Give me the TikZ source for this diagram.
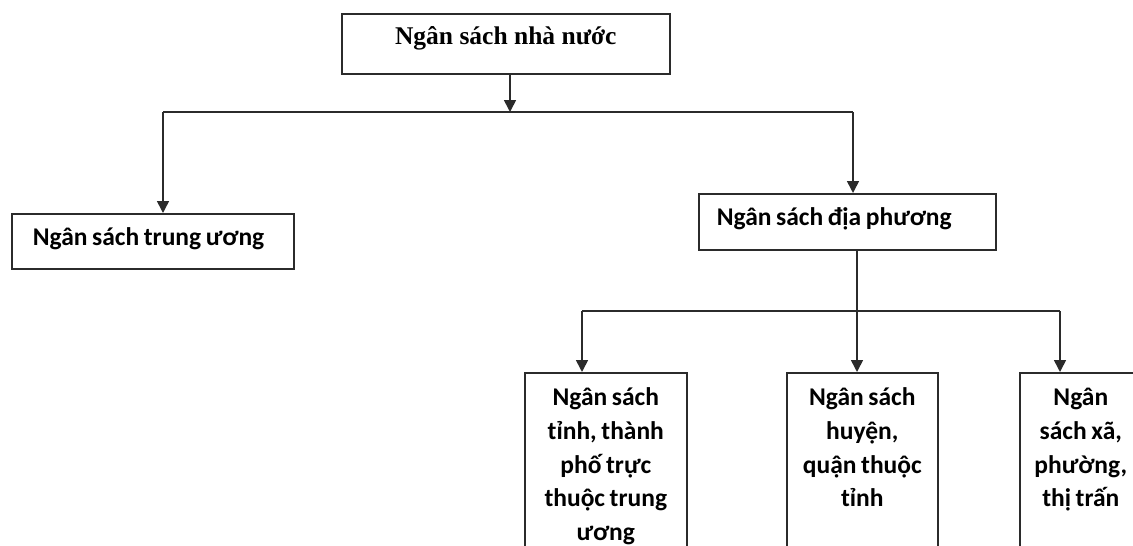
\documentclass[tikz,border=0pt]{standalone}
\usepackage{fontspec}
\setmainfont{Carlito}[WordSpace=0.8]
\newfontfamily\timesfont{Liberation Serif}
\usetikzlibrary{arrows.meta}
\definecolor{linegray}{HTML}{2B2B2B}
\tikzset{
  boxstyle/.style={draw=linegray, line width=1.6pt, rectangle, inner ysep=0pt, font=\fontsize{25.5}{30}\selectfont\bfseries},
  conn/.style={draw=linegray, line width=1.6pt},
  arr/.style={conn, -{Triangle[width=12pt,length=12pt]}}
}
\begin{document}
\begin{tikzpicture}[x=1pt,y=1pt]
\useasboundingbox (0,0) rectangle (1133,-546);
\clip (0,0) rectangle (1133,-546);
% level 0
\node[boxstyle, anchor=north west, minimum width=328pt, inner xsep=0pt,
      text height=31pt, text depth=29pt, font=\timesfont\fontsize{25.5}{30}\selectfont\bfseries]
  (nsnn) at (341,-13) {Ngân sách nhà nước};
% level 1
\node[boxstyle, anchor=north west, inner xsep=21pt, text width=240pt, align=flush left,
      text height=32pt, text depth=23pt]
  (tw) at (11,-213) {\mbox{Ngân sách trung ương}};
\node[boxstyle, anchor=north west, inner xsep=18pt, text width=261pt, align=flush left,
      text height=32pt, text depth=24pt]
  (dp) at (698,-193) {\mbox{Ngân sách địa phương}};
% level 2
\node[boxstyle, anchor=north west, inner xsep=0pt, minimum width=162pt,
      text height=33pt, text depth=220pt]
  (b1) at (524,-372) {\parbox[t]{150pt}{\centering\baselineskip=33.6pt Ngân sách\\tỉnh, thành\\phố trực\\thuộc trung\\ương}};
\node[boxstyle, anchor=north west, inner xsep=0pt, minimum width=151pt,
      text height=33pt, text depth=220pt]
  (b2) at (786,-372) {\parbox[t]{140pt}{\centering\baselineskip=33.6pt Ngân sách\\huyện,\\quận thuộc\\tỉnh}};
\node[boxstyle, anchor=north west, inner xsep=0pt, minimum width=122pt,
      text height=33pt, text depth=220pt]
  (b3) at (1019,-372) {\parbox[t]{110pt}{\centering\baselineskip=33.6pt Ngân\\sách xã,\\phường,\\thị trấn}};
% junctions
\coordinate (j0) at (510,-112);
\coordinate (jL) at (163,-112);
\coordinate (jR) at (853,-112);
\coordinate (k1) at (582,-311);
\coordinate (k2) at (857,-311);
\coordinate (k3) at (1060,-311);
% connectors
\draw[arr] (j0 |- nsnn.south) -- (j0);
\draw[conn] (jL) -- (jR);
\draw[arr] (jL) -- (jL |- tw.north);
\draw[arr] (jR) -- (jR |- dp.north);
\draw[arr] (k2 |- dp.south) -- (k2 |- b2.north);
\draw[conn] (k1) -- (k3);
\draw[arr] (k1) -- (k1 |- b1.north);
\draw[arr] (k3) -- (k3 |- b3.north);
\end{tikzpicture}
\end{document}
